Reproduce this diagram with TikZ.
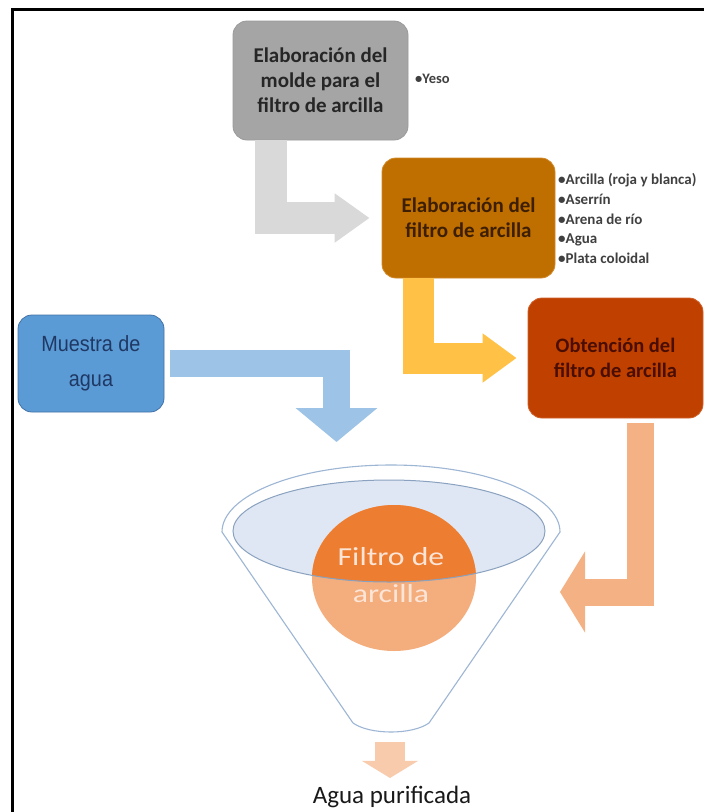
\documentclass[tikz,border=0pt]{standalone}
\usepackage{fontspec}
\setmainfont{Carlito}
\newfontfamily\narrowfont[FakeStretch=0.9]{Liberation Sans}
\newfontfamily\widefont[FakeStretch=1.22]{Carlito}
\usetikzlibrary{arrows.meta}
\definecolor{grayBox}{HTML}{A5A5A5}
\definecolor{grayBorder}{HTML}{9A9A9A}
\definecolor{grayArrow}{HTML}{D9D9D9}
\definecolor{brownBox}{HTML}{BF6E00}
\definecolor{brownBorder}{HTML}{D08A2A}
\definecolor{brownText}{HTML}{3D1F00}
\definecolor{yellowArrow}{HTML}{FFC246}
\definecolor{redBox}{HTML}{C04000}
\definecolor{redBorder}{HTML}{D0602A}
\definecolor{redText}{HTML}{4A0E00}
\definecolor{blueBox}{HTML}{5B9BD5}
\definecolor{blueBorder}{HTML}{4472A8}
\definecolor{blueText}{HTML}{1F3864}
\definecolor{blueArrow}{HTML}{9DC3E6}
\definecolor{salmonArrow}{HTML}{F4B183}
\definecolor{paleArrow}{HTML}{F8CBAD}
\definecolor{funnelLine}{HTML}{9DB6D4}
\definecolor{rimFill}{HTML}{DEE7F3}
\definecolor{rimLine}{HTML}{8AA2C0}
\definecolor{orDark}{HTML}{ED7D31}
\definecolor{orLight}{HTML}{F4AE7E}
\definecolor{circText}{HTML}{FCE4D6}
\definecolor{bulletText}{HTML}{404040}
\begin{document}
\begin{tikzpicture}[x=1pt,y=-1pt,
  box/.style={rectangle, rounded corners=14pt, align=center, inner sep=0pt, line width=0.8pt},
  bentarrow/.style={line join=miter}]
\useasboundingbox (0,0) rectangle (704,812);
\fill[white] (0,0) rectangle (704,812);
% frame
\draw[line width=3pt] (12.5,812) -- (12.5,9.5) -- (704,9.5);

% boxes
\node[box, fill=grayBox, draw=grayBorder, minimum width=175pt, minimum height=119pt,
  text=black!85, font=\fontsize{21}{25}\selectfont\bfseries] (g) at (320.5,80.5)
  {Elaboración del\\molde para el\\filtro de arcilla};
\node[box, fill=brownBox, draw=brownBorder, minimum width=173pt, minimum height=120pt,
  text=brownText, font=\fontsize{21}{25}\selectfont\bfseries] (b) at (468.5,218)
  {Elaboración del\\filtro de arcilla};
\node[box, fill=redBox, draw=redBorder, minimum width=175pt, minimum height=120pt,
  text=redText, font=\fontsize{20.5}{25}\selectfont\bfseries] (r) at (615.5,358)
  {Obtención del\\filtro de arcilla};
\node[box, fill=blueBox, draw=blueBorder, minimum width=146pt, minimum height=97pt,
  text=blueText, font=\narrowfont\fontsize{22}{35}\selectfont] (m) at (91,363.5)
  {Muestra de\\agua};

% bullet lists
\node[anchor=west, inner sep=0pt, text=bulletText, font=\fontsize{14.5}{20}\selectfont\bfseries] (y) at (415,79) {•Yeso};
\node[anchor=west, align=left, inner sep=0pt, text=bulletText, font=\fontsize{15}{19.8}\selectfont\bfseries] (lst) at (558,218.5)
  {•Arcilla (roja y blanca)\\•Aserrín\\•Arena de río\\•Agua\\•Plata coloidal};

% funnel
\coordinate (fb) at (390,742);
\coordinate (tipB) at (336.5,442);
\coordinate (tipS) at (560,592);
\draw[funnelLine, line width=1.1pt] (222,532) arc[start angle=180, end angle=360, x radius=169, y radius=67]
  -- (429,723) .. controls (412,735) and (370,735) .. (353,723) -- cycle;
\fill[rimFill] (389,531) ellipse[x radius=156, y radius=51];
\fill[orLight] (394,578) ellipse[x radius=82, y radius=73];
\begin{scope}
  \clip (389,531) ellipse[x radius=156, y radius=51];
  \fill[orDark] (394,578) ellipse[x radius=82, y radius=73];
\end{scope}
\draw[rimLine, line width=1pt] (389,531) ellipse[x radius=156, y radius=51];
\node[align=center, inner sep=0pt, text=circText, font=\widefont\fontsize{26}{37}\selectfont] (fc) at (391,575)
  {Filtro de\\arcilla};

% bent arrows
\draw[bentarrow, grayArrow, line width=32pt, shorten >=12pt,
  -{Triangle[length=35pt, width=47pt]}] ([xshift=-49.5pt]g.south) |- (b.west);
\draw[bentarrow, yellowArrow, line width=31pt, shorten >=11pt,
  -{Triangle[length=34pt, width=47pt]}] ([xshift=-50.5pt]b.south) |- (r.west);
\draw[bentarrow, blueArrow, line width=27pt, shorten <=6pt,
  -{Triangle[length=34pt, width=80pt]}] (m.east) -| (tipB);
\draw[bentarrow, salmonArrow, line width=27pt, shorten <=5pt,
  -{Triangle[length=25pt, width=80pt]}] ([xshift=24.5pt]r.south) |- (tipS);

% output
\node[inner sep=0pt, font=\fontsize{25}{30}\selectfont, text=black!90] (ap) at (392,797) {Agua purificada};
\draw[paleArrow, line width=30pt, -{Triangle[length=17pt, width=55pt]}] (fb) -- ([yshift=8pt]ap.north -| fb);
\end{tikzpicture}
\end{document}
